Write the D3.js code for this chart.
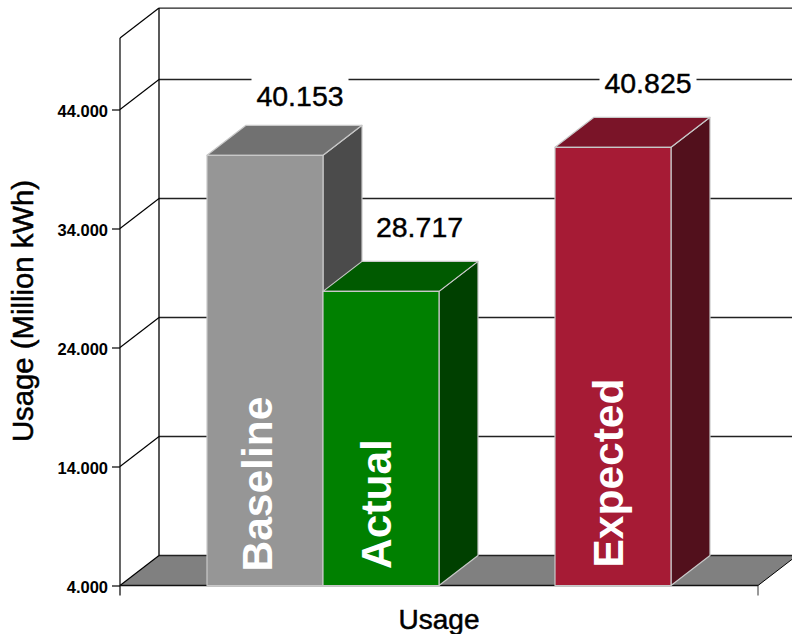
<!DOCTYPE html>
<html>
<head>
  <meta charset="utf-8">
  <title>Usage</title>
  <script src="https://d3js.org/d3.v7.min.js"></script>
  <style>
    body { margin: 0; background: #fff; }
    text { font-family: "Liberation Sans", Arial, sans-serif; fill: #000; }
  </style>
</head>
<body>
<div id="vis"></div>
<script>
// bar values, slot " " is the empty place between Actual and Expected
var categories = ["Baseline", "Actual", "Expected"];
var slots = ["Baseline", "Actual", " ", "Expected"];
var usage = [40153, 28717, 40825];
var tickValues = [4000, 14000, 24000, 34000, 44000];
var axisTop = 50000;
var yTitle = "Usage (Million kWh)";
var xTitle = "Usage";

var frontColors = ["#969696", "#008000", "#a61b35"];
var topColors = ["#717171", "#005a00", "#7a1428"];
var sideColors = ["#4b4b4b", "#004000", "#52101c"];

var width = 792, height = 634;
var depthX = 39, depthY = -30;
var x0 = 120, x1 = 758;

var fmt = d3.formatLocale({decimal: ",", thousands: ".", grouping: [3], currency: ["", ""]}).format(",d");

var y = d3.scaleLinear().domain([4000, 44000]).range([585.5, 109.5]);
var x = d3.scaleBand().domain(slots).range([207, 671]);

var svg = d3.select("#vis").append("svg")
  .attr("width", width)
  .attr("height", height)
  .style("display", "block");

function poly(pts) { return pts.map(function(p) { return p.join(","); }).join(" "); }

// floor
svg.append("polygon")
  .attr("fill", "#808080")
  .attr("stroke", "none")
  .attr("points", poly([[x0, y(4000)], [x0 + depthX, y(4000) + depthY], [x1 + depthX, y(4000) + depthY], [x1, y(4000)]]));

// back wall grid lines
var wall = tickValues.concat([axisTop]);
svg.selectAll("line.grid").data(wall).enter().append("line")
  .attr("class", "grid")
  .attr("x1", x0 + depthX)
  .attr("x2", x1 + depthX)
  .attr("y1", function(d) { return y(d) + depthY; })
  .attr("y2", function(d) { return y(d) + depthY; })
  .attr("stroke", "#222")
  .attr("stroke-width", 1.3);

// side wall diagonals
svg.selectAll("line.diag").data(wall).enter().append("line")
  .attr("class", "diag")
  .attr("x1", x0)
  .attr("x2", x0 + depthX)
  .attr("y1", function(d) { return y(d); })
  .attr("y2", function(d) { return y(d) + depthY; })
  .attr("stroke", "#000")
  .attr("stroke-width", 1.2);

// back vertical
svg.append("line")
  .attr("x1", x0 + depthX).attr("x2", x0 + depthX)
  .attr("y1", y(axisTop) + depthY).attr("y2", y(4000) + depthY)
  .attr("stroke", "#000")
  .attr("stroke-width", 1.3);

// y axis
var yAxis = d3.axisLeft(y)
  .tickValues(tickValues)
  .tickFormat(fmt)
  .tickSize(8)
  .tickPadding(4);
var yg = svg.append("g").attr("transform", "translate(" + x0 + ",0)").call(yAxis);
yg.select(".domain").remove();
yg.selectAll("text")
  .attr("dy", "0.4em")
  .style("font-size", "16.5px")
  .style("font-weight", "bold")
  .style("font-family", '"Liberation Sans", Arial, sans-serif');
yg.selectAll("line").attr("stroke", "#000").attr("stroke-width", 1.2);
yg.append("line")
  .attr("y1", y(axisTop)).attr("y2", y(4000) + 10)
  .attr("stroke", "#000")
  .attr("stroke-width", 1.2);

// front edge of floor and x ticks
svg.append("line")
  .attr("x1", x0).attr("x2", x1)
  .attr("y1", y(4000)).attr("y2", y(4000))
  .attr("stroke", "#111")
  .attr("stroke-width", 1.3);
svg.append("line")
  .attr("x1", x1).attr("x2", x1)
  .attr("y1", y(4000)).attr("y2", y(4000) + 10)
  .attr("stroke", "#333");
svg.append("line")
  .attr("x1", x1).attr("x2", x1 + depthX)
  .attr("y1", y(4000)).attr("y2", y(4000) + depthY)
  .attr("stroke", "#000");

// Baseline's number sits lower than the other two in the original
function labelLift(d) { return d === "Baseline" ? 19.5 : 24.5; }
// Actual's number is further right, it dodges the Baseline bar
function labelShift(d) { return d === "Actual" ? 38.5 : 35; }

// value labels sit on white boxes that cut the grid lines
var labels = svg.selectAll("g.value").data(categories).enter().append("g").attr("class", "value");
labels.append("rect")
  .attr("fill", "#fff")
  .attr("x", function(d) { return x(d) + x.bandwidth() / 2 + labelShift(d) - 48.5; })
  .attr("y", function(d, i) { return y(usage[i]) + depthY - labelLift(d) - 30; })
  .attr("width", 97)
  .attr("height", 36);
labels.append("text")
  .attr("text-anchor", "middle")
  .attr("x", function(d) { return x(d) + x.bandwidth() / 2 + labelShift(d); })
  .attr("y", function(d, i) { return y(usage[i]) + depthY - labelLift(d); })
  .style("font-size", "28.5px")
  .style("stroke", "#000")
  .style("stroke-width", 0.4)
  .text(function(d, i) { return fmt(usage[i]); });

// bars
var bars = svg.selectAll("g.bar").data(categories).enter().append("g")
  .attr("class", "bar")
  .attr("stroke", "#c8c8c8")
  .attr("stroke-width", 1.2)
  .attr("stroke-linejoin", "round");

bars.append("polygon")
  .attr("fill", function(d, i) { return sideColors[i]; })
  .attr("points", function(d, i) {
    var r = x(d) + x.bandwidth(), t = y(usage[i]), b = y(4000);
    return poly([[r, t], [r + depthX, t + depthY], [r + depthX, b + depthY], [r, b]]);
  });
bars.append("polygon")
  .attr("fill", function(d, i) { return topColors[i]; })
  .attr("points", function(d, i) {
    var l = x(d), r = l + x.bandwidth(), t = y(usage[i]);
    return poly([[l, t], [l + depthX, t + depthY], [r + depthX, t + depthY], [r, t]]);
  });
bars.append("rect")
  .attr("fill", function(d, i) { return frontColors[i]; })
  .attr("x", function(d) { return x(d); })
  .attr("y", function(d, i) { return y(usage[i]); })
  .attr("width", x.bandwidth())
  .attr("height", function(d, i) { return y(4000) - y(usage[i]); });

// category names inside the bars
var catNudgeX = {Baseline: 7, Actual: 10, Expected: 10};
var catBottom = {Baseline: 571.5, Actual: 569, Expected: 567.5};
svg.selectAll("text.cat").data(categories).enter().append("text")
  .attr("class", "cat")
  .attr("transform", function(d) {
    return "translate(" + (x(d) + x.bandwidth() / 2 + catNudgeX[d]) + "," + catBottom[d] + ") rotate(-90)";
  })
  .style("font-size", "42.5px")
  .style("font-weight", "bold")
  .style("fill", "#fff")
  .text(function(d) { return d; });

// axis titles
svg.append("text")
  .attr("transform", "translate(33,311) rotate(-90)")
  .attr("text-anchor", "middle")
  .style("font-size", "29.3px")
  .style("stroke", "#000")
  .style("stroke-width", 0.5)
  .text(yTitle);
svg.append("text")
  .attr("x", 439)
  .attr("y", 629)
  .attr("text-anchor", "middle")
  .style("font-size", "28px")
  .style("stroke", "#000")
  .style("stroke-width", 0.5)
  .text(xTitle);
</script>
</body>
</html>
